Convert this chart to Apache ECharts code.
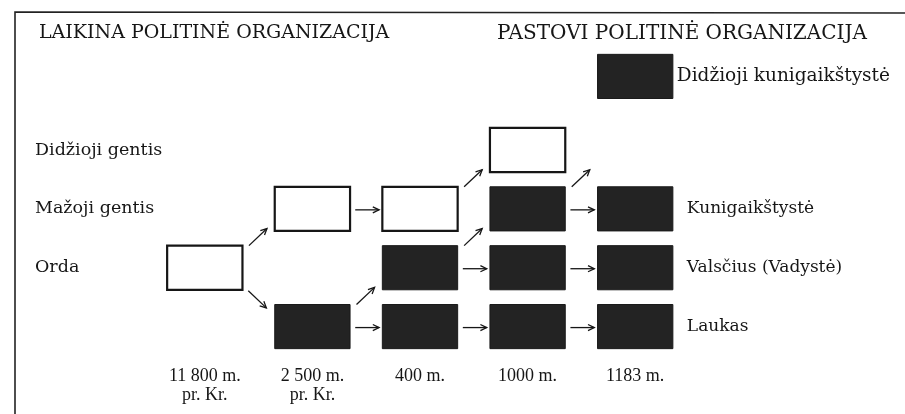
<!DOCTYPE html>
<html>
<head>
<meta charset="utf-8">
<script src="https://cdn.jsdelivr.net/npm/echarts@6/dist/echarts.min.js"></script>
<style>
html, body { margin: 0; padding: 0; background: #fff; }
#chart { width: 905px; height: 414px; }
</style>
</head>
<body>
<div id="chart"></div>
<script>
// periods along the bottom
const periods = ['11 800 m.\npr. Kr.', '2 500 m.\npr. Kr.', '400 m.', '1000 m.', '1183 m.']

// row levels (0 = Laukas at the bottom)
const leftLabels = ['Didžioji gentis', 'Mažoji gentis', 'Orda']
const leftLevels = [3, 2, 1]
const rightLabels = ['Didžioji kunigaikštystė', 'Kunigaikštystė', 'Valsčius (Vadystė)', 'Laukas']
const rightLevels = [4.25, 2, 1, 0]

// boxes: [period index, level]
const openBoxes = [[0, 1], [1, 2], [2, 2], [3, 3]]
const filledBoxes = [[1, 0], [2, 1], [2, 0], [3, 2], [3, 1], [3, 0], [4, 4.25], [4, 2], [4, 1], [4, 0]]

// arrows: [from period, from level, to period, to level]
const arrows = [
    [0, 1, 1, 2], [0, 1, 1, 0],
    [1, 2, 2, 2], [1, 0, 2, 1], [1, 0, 2, 0],
    [2, 2, 3, 3], [2, 1, 3, 2], [2, 1, 3, 1], [2, 0, 3, 0],
    [3, 2, 4, 4.25], [3, 2, 4, 2], [3, 1, 4, 1], [3, 0, 4, 0]
]

const titles = ['LAIKINA POLITINĖ ORGANIZACIJA', 'PASTOVI POLITINĖ ORGANIZACIJA']

const FONT = 'DejaVu Serif'
const INK = '#161616'
const BOX_W = 0.7   // share of a period band
const BOX_H = 0.75  // share of one level

const chart = echarts.init(document.getElementById('chart'))

const boxItem = (filled) => (params, api) => {
    const c = api.coord([api.value(0), api.value(1)])
    const s = api.size([1, 1])
    const w = s[0] * BOX_W, h = s[1] * BOX_H
    return {
        type: 'rect',
        shape: { x: c[0] - w / 2, y: c[1] - h / 2, width: w, height: h },
        style: filled
            ? { fill: '#232323', stroke: '#1a1a1a', lineWidth: 1 }
            : { fill: '#fff', stroke: INK, lineWidth: 2.2 }
    }
}

const arrowItem = (params, api) => {
    const a = api.coord([api.value(0), api.value(1)])
    const b = api.coord([api.value(2), api.value(3)])
    const s = api.size([1, 1])
    const w = s[0] * BOX_W, h = s[1] * BOX_H
    const gap = s[0] - w
    let x0, y0, x1, y1
    if (api.value(1) === api.value(3)) {
        x0 = a[0] + w / 2 + gap * 0.16
        x1 = b[0] - w / 2 - gap * 0.1
        y0 = y1 = a[1] + 1
    } else if (api.value(3) > api.value(1)) {
        x0 = a[0] + w / 2 + gap * 0.2
        y0 = a[1] - h / 2
        x1 = x0 + gap * 0.56
        y1 = y0 - gap * 0.53
    } else {
        x0 = a[0] + w / 2 + gap * 0.18
        y0 = a[1] + h / 2 + 1
        x1 = x0 + gap * 0.56
        y1 = y0 + gap * 0.53
    }
    const ang = Math.atan2(y1 - y0, x1 - x0)
    const hl = 7
    const p1 = [x1 - hl * Math.cos(ang - 0.45), y1 - hl * Math.sin(ang - 0.45)]
    const p2 = [x1 - hl * Math.cos(ang + 0.45), y1 - hl * Math.sin(ang + 0.45)]
    return {
        type: 'group',
        children: [
            { type: 'line', shape: { x1: x0, y1: y0, x2: x1, y2: y1 }, style: { stroke: INK, lineWidth: 1.3 } },
            { type: 'polyline', shape: { points: [p1, [x1, y1], p2] }, style: { stroke: INK, lineWidth: 1.3, fill: null } }
        ]
    }
}

const labelItem = (texts, side) => (params, api) => {
    const c = api.coord([api.value(0), api.value(1)])
    const s = api.size([1, 1])
    const w = s[0] * BOX_W
    let x = 35
    let size = 17.5
    if (side === 'right') {
        x = c[0] + w / 2 + (api.value(1) > 4 ? 4 : 14)
        size = api.value(1) > 4 ? 18.5 : 17
    }
    return {
        type: 'text',
        style: {
            x: x, y: c[1],
            text: texts[params.dataIndex],
            fill: INK,
            font: size + 'px "' + FONT + '"',
            align: 'left',
            verticalAlign: 'middle'
        }
    }
}

const option = {
    backgroundColor: '#fff',
    animation: false,
    title: [
        { text: titles[0], left: 34, top: 19, textStyle: { fontFamily: FONT, fontSize: 19, fontWeight: 'normal', color: INK } },
        { text: titles[1], left: 492, top: 19, textStyle: { fontFamily: FONT, fontSize: 20, fontWeight: 'normal', color: INK } }
    ],
    grid: { left: 151, right: 216, top: 47, bottom: 58 },
    xAxis: {
        type: 'category',
        data: periods,
        axisLine: { show: false },
        axisTick: { show: false },
        axisLabel: {
            margin: 11,
            fontFamily: 'Liberation Serif',
            fontSize: 18,
            lineHeight: 19,
            color: INK
        }
    },
    yAxis: { type: 'value', min: -0.5, max: 4.75, show: false },
    graphic: [
        {
            type: 'polyline',
            shape: { points: [[15, 414], [15, 12], [905, 13]] },
            style: { stroke: '#222', lineWidth: 1.6, fill: null }
        }
    ],
    series: [
        { type: 'custom', renderItem: boxItem(false), data: openBoxes, silent: true },
        { type: 'custom', renderItem: boxItem(true), data: filledBoxes, silent: true },
        { type: 'custom', renderItem: arrowItem, data: arrows, silent: true },
        { type: 'custom', renderItem: labelItem(leftLabels, 'left'), data: leftLevels.map(l => [0, l]), silent: true },
        { type: 'custom', renderItem: labelItem(rightLabels, 'right'), data: rightLevels.map(l => [4, l]), silent: true }
    ]
}

chart.setOption(option)
</script>
</body>
</html>
